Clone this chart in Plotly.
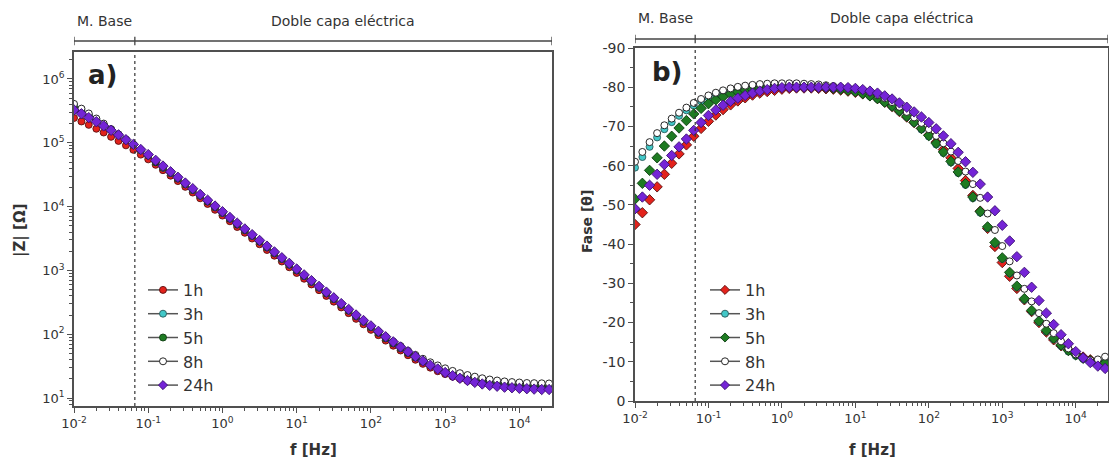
import math
import plotly.graph_objects as go

# ---------------- data ----------------
freq = [0.01, 0.0126, 0.0158, 0.02, 0.0251, 0.0316, 0.0398, 0.0501, 0.0631, 0.0794,
        0.1, 0.126, 0.158, 0.2, 0.251, 0.316, 0.398, 0.501, 0.631, 0.794,
        1, 1.26, 1.58, 2, 2.51, 3.16, 3.98, 5.01, 6.31, 7.94,
        10, 12.6, 15.8, 20, 25.1, 31.6, 39.8, 50.1, 63.1, 79.4,
        100, 126, 158, 200, 251, 316, 398, 501, 631, 794,
        1000, 1260, 1580, 2000, 2510, 3160, 3980, 5010, 6310, 7940,
        10000, 12600, 15800, 20000, 25100]

series = ["1h", "3h", "5h", "8h", "24h"]

Z_1h = [245000, 216000, 191000, 166000, 145000, 124000, 107000, 91200, 77600, 65300,
        55000, 45200, 37200, 30500, 25100, 20400, 16600, 13500, 11000, 8910,
        7240, 5890, 4790, 3890, 3160, 2570, 2090, 1700, 1380, 1120,
        912, 741, 603, 490, 398, 324, 263, 214, 174, 143,
        117, 96.6, 79.4, 66.1, 55.6, 46.8, 39.8, 34.3, 29.9, 26.3,
        23.7, 21.6, 20.0, 18.6, 17.6, 16.8, 16.2, 15.7, 15.3, 15.0,
        14.7, 14.5, 14.4, 14.3, 14.2]
Z_3h = [380000, 324000, 275000, 232000, 195000, 162000, 135000, 112000, 93300, 76700,
        63100, 49500, 40700, 33500, 27500, 22400, 18200, 14800, 12000, 9770,
        7940, 6460, 5250, 4270, 3470, 2820, 2290, 1860, 1510, 1230,
        1000, 813, 661, 537, 437, 355, 288, 234, 191, 157,
        129, 106, 87.1, 72.4, 61.0, 51.3, 43.7, 37.6, 32.7, 28.8,
        26.0, 23.7, 21.9, 20.4, 19.3, 18.4, 17.6, 17.0, 16.6, 16.2,
        16.0, 15.8, 15.7, 15.6, 15.5]
Z_5h = [355000, 305000, 263000, 224000, 191000, 160000, 135000, 112000, 93300, 76700,
        63100, 49500, 40700, 33500, 27500, 22400, 18200, 14800, 12000, 9770,
        7940, 6460, 5250, 4270, 3470, 2820, 2290, 1860, 1510, 1230,
        1000, 813, 661, 537, 437, 355, 288, 234, 191, 157,
        129, 105, 86.1, 71.6, 60.3, 50.7, 43.2, 37.2, 32.4, 28.5,
        25.4, 23.2, 21.4, 20.0, 18.8, 17.8, 17.0, 16.4, 15.8, 15.5,
        15.2, 15.1, 15.0, 14.9, 14.8]
Z_8h = [407000, 343000, 288000, 240000, 200000, 164000, 135000, 112000, 93300, 76700,
        63100, 50700, 41700, 34300, 28200, 22900, 18600, 15100, 12300, 10000,
        8130, 6610, 5370, 4370, 3550, 2880, 2340, 1910, 1550, 1260,
        1020, 832, 676, 550, 447, 363, 295, 240, 195, 160,
        132, 110, 91.2, 76.7, 65.3, 55.0, 47.3, 41.2, 36.3, 32.4,
        29.2, 26.6, 24.5, 22.9, 21.6, 20.4, 19.5, 18.8, 18.2, 17.8,
        17.5, 17.2, 17.1, 17.0, 16.9]
Z_24h = [327000, 285000, 248000, 214000, 184000, 157000, 133000, 112000, 94400, 78500,
         65300, 53100, 43200, 35100, 28800, 23400, 19100, 15500, 12600, 10200,
         8320, 6760, 5500, 4470, 3630, 2950, 2400, 1950, 1580, 1290,
         1050, 851, 692, 562, 457, 372, 302, 245, 200, 164,
         135, 111, 91.2, 75.9, 63.1, 53.1, 44.7, 38.0, 32.7, 28.5,
         25.1, 22.4, 20.4, 18.8, 17.6, 16.6, 15.8, 15.3, 14.8, 14.5,
         14.2, 14.0, 13.8, 13.6, 13.6]

phase_1h = [-45.0, -48.0, -51.3, -54.6, -57.8, -60.6, -63.0, -65.3, -67.5, -69.5,
            -71.3, -72.9, -74.3, -75.5, -76.5, -77.3, -78.0, -78.5, -78.9, -79.2,
            -79.5, -79.7, -79.8, -79.8, -79.8, -79.7, -79.6, -79.5, -79.3, -79.0,
            -78.7, -78.3, -77.8, -77.1, -76.2, -75.1, -73.8, -72.4, -71.0, -69.5,
            -67.8, -66.0, -64.1, -62.0, -59.3, -56.2, -52.4, -48.4, -44.0, -39.4,
            -35.3, -31.8, -28.7, -25.8, -22.8, -20.0, -17.6, -15.6, -14.1, -13.0,
            -12.0, -11.2, -10.5, -10.0, -9.6]
phase_3h = [-59.5, -62.2, -64.8, -67.2, -69.3, -71.1, -72.7, -74.1, -75.3, -76.4,
            -77.3, -78.0, -78.7, -79.2, -79.6, -79.9, -80.1, -80.3, -80.4, -80.5,
            -80.5, -80.5, -80.5, -80.4, -80.3, -80.2, -80.0, -79.8, -79.5, -79.2,
            -78.8, -78.3, -77.7, -77.0, -76.1, -75.0, -73.8, -72.4, -70.9, -69.2,
            -67.4, -65.4, -63.2, -60.8, -58.1, -55.1, -51.7, -48.0, -44.1, -40.1,
            -36.2, -32.5, -29.0, -25.8, -22.8, -20.1, -17.7, -15.7, -14.0, -12.6,
            -11.5, -10.7, -10.2, -10.0, -10.1]
phase_5h = [-51.5, -55.5, -58.8, -62.0, -65.0, -67.5, -69.6, -71.5, -73.2, -74.6,
            -75.8, -76.8, -77.6, -78.3, -78.8, -79.2, -79.5, -79.8, -80.0, -80.1,
            -80.2, -80.2, -80.2, -80.2, -80.1, -80.0, -79.9, -79.7, -79.5, -79.2,
            -78.9, -78.4, -77.8, -77.1, -76.2, -75.2, -74.0, -72.6, -71.1, -69.5,
            -67.7, -65.7, -63.5, -61.1, -58.4, -55.4, -52.0, -48.3, -44.4, -40.4,
            -36.5, -32.8, -29.3, -26.1, -23.1, -20.4, -18.0, -16.0, -14.3, -12.9,
            -11.8, -10.9, -10.3, -9.9, -9.7]
phase_8h = [-61.0, -63.5, -66.0, -68.3, -70.3, -72.0, -73.5, -74.8, -76.0, -77.0,
            -77.9, -78.6, -79.2, -79.7, -80.1, -80.4, -80.6, -80.8, -80.9, -81.0,
            -81.0, -81.0, -81.0, -80.9, -80.8, -80.7, -80.5, -80.3, -80.0, -79.8,
            -79.6, -79.2, -78.7, -78.0, -77.2, -76.2, -75.0, -73.7, -72.3, -70.9,
            -69.3, -67.6, -65.7, -63.6, -61.2, -58.5, -55.3, -51.8, -47.8, -43.6,
            -39.5, -35.6, -32.0, -28.6, -25.4, -22.4, -19.7, -17.3, -15.2, -13.4,
            -11.9, -10.9, -10.4, -10.6, -11.3]
phase_24h = [-49.0, -52.0, -55.0, -57.8, -60.3, -62.6, -64.8, -66.8, -69.0, -71.0,
             -72.8, -74.2, -75.4, -76.4, -77.2, -77.9, -78.5, -79.0, -79.4, -79.7,
             -79.9, -80.0, -80.0, -80.0, -80.0, -80.0, -80.0, -80.0, -80.0, -79.9,
             -79.7, -79.4, -79.0, -78.5, -77.8, -77.0, -76.0, -74.9, -73.7, -72.4,
             -71.0, -69.4, -67.6, -65.6, -63.4, -61.0, -58.3, -55.3, -52.0, -48.5,
             -44.8, -40.8, -36.8, -32.8, -29.0, -25.6, -22.4, -19.5, -16.9, -14.6,
             -12.6, -11.0, -9.8, -8.9, -8.3]

Z = {"1h": Z_1h, "3h": Z_3h, "5h": Z_5h, "8h": Z_8h, "24h": Z_24h}
PH = {"1h": phase_1h, "3h": phase_3h, "5h": phase_5h, "8h": phase_8h, "24h": phase_24h}

freq_ticks = [0.01, 0.1, 1, 10, 100, 1000, 10000]
freq_ticktext = ["10<sup>-2</sup>", "10<sup>-1</sup>", "10<sup>0</sup>", "10<sup>1</sup>",
                 "10<sup>2</sup>", "10<sup>3</sup>", "10<sup>4</sup>"]
z_ticks = [10, 100, 1000, 10000, 100000, 1000000]
z_ticktext = ["10<sup>1</sup>", "10<sup>2</sup>", "10<sup>3</sup>", "10<sup>4</sup>",
              "10<sup>5</sup>", "10<sup>6</sup>"]
phase_ticks = [0, -10, -20, -30, -40, -50, -60, -70, -80, -90]
f_boundary = 0.066          # limit between "M. Base" and "Doble capa eléctrica"
f_min, f_max = 0.01, 27500  # visible frequency window
region_labels = ["M. Base", "Doble capa eléctrica"]

# ---------------- style ----------------
fill = {"1h": "#e3221b", "3h": "#42c8c8", "5h": "#1e7b22", "8h": "#ffffff", "24h": "#7424d6"}
edge = {"1h": "#5a1010", "3h": "#2a5a5a", "5h": "#0f3d12", "8h": "#111111", "24h": "#3a1070"}
sym_left = {"1h": "circle", "3h": "circle", "5h": "circle", "8h": "circle", "24h": "diamond"}
sym_right = {"1h": "diamond", "3h": "circle", "5h": "diamond", "8h": "circle", "24h": "diamond"}

FONT = "DejaVu Sans"
AX = "#505050"
X_RANGE = [math.log10(f_min), math.log10(f_max)]

fig = go.Figure()

for xa, ya, data, syms, leg in [("x", "y", Z, sym_left, "legend"),
                                ("x2", "y2", PH, sym_right, "legend2")]:
    for s in series:
        fig.add_trace(go.Scatter(
            x=freq, y=data[s], xaxis=xa, yaxis=ya, mode="markers", name=s,
            showlegend=False,
            marker=dict(symbol=syms[s], size=7 if syms[s] == "circle" else 8,
                        color=fill[s], line=dict(color=edge[s], width=0.9))))
    for s in series:
        fig.add_trace(go.Scatter(
            x=[None], y=[None], xaxis=xa, yaxis=ya, mode="lines+markers", name=s,
            legend=leg, showlegend=True,
            line=dict(color="#555555", width=1.5),
            marker=dict(symbol=syms[s], size=7, color=fill[s],
                        line=dict(color=edge[s], width=0.9))))

axis_common = dict(showline=True, linecolor=AX, linewidth=1.6, mirror=True,
                   ticks="outside", ticklen=5, tickwidth=1.2, tickcolor=AX,
                   showgrid=False, zeroline=False, automargin=False)
common_x = dict(type="log", range=X_RANGE, tickvals=freq_ticks, ticktext=freq_ticktext,
                minor=dict(ticks="outside", ticklen=3, tickcolor=AX, dtick="D1"),
                tickfont=dict(family=FONT, size=13, color="#333333"), **axis_common)

fig.update_layout(
    width=1109, height=466, margin=dict(l=0, r=0, t=0, b=0),
    paper_bgcolor="white", plot_bgcolor="white",
    font=dict(family=FONT, color="#333333"),
    xaxis=dict(domain=[74 / 1109, 552 / 1109], anchor="y", **common_x),
    yaxis=dict(domain=[1 - 406 / 466, 1 - 52 / 466], anchor="x", type="log",
               range=[0.875, 6.423], tickvals=z_ticks, ticktext=z_ticktext,
               minor=dict(ticks="outside", ticklen=3, tickcolor=AX, dtick="D1"),
               tickfont=dict(family=FONT, size=13, color="#333333"), **axis_common),
    xaxis2=dict(domain=[635 / 1109, 1108 / 1109], anchor="y2", **common_x),
    yaxis2=dict(domain=[1 - 401 / 466, 1 - 48 / 466], anchor="x2", range=[0, -90],
                tickvals=phase_ticks, ticktext=[str(v) for v in phase_ticks],
                minor=dict(ticks="outside", ticklen=3, tickcolor=AX, dtick=5, tick0=0),
                tickfont=dict(family=FONT, size=14, color="#333333"), **axis_common),
    legend=dict(x=143 / 1109, y=1 - 273 / 466, xanchor="left", yanchor="top",
                bgcolor="rgba(0,0,0,0)", borderwidth=0, tracegroupgap=0,
                font=dict(family=FONT, size=16, color="#333333")),
    legend2=dict(x=705 / 1109, y=1 - 273 / 466, xanchor="left", yanchor="top",
                 bgcolor="rgba(0,0,0,0)", borderwidth=0, tracegroupgap=0,
                 font=dict(family=FONT, size=16, color="#333333")),
)

# geometric mean positions (centres on a log axis) for the region labels
c_base = math.sqrt(f_min * f_boundary)
c_dcl = math.sqrt(f_boundary * f_max)

shapes = []
anns = []
for xr, yr, ybr, ylab in [("x", "y domain", 1 - 41 / 466, 1 - 21 / 466),
                          ("x2", "y2 domain", 1 - 39 / 466, 1 - 18 / 466)]:
    shapes.append(dict(type="line", xref=xr, yref=yr, x0=f_boundary, x1=f_boundary,
                       y0=0, y1=1, line=dict(color="#333333", width=1.2, dash="dot")))
    shapes.append(dict(type="line", xref=xr, yref="paper", x0=f_min, x1=f_max,
                       y0=ybr, y1=ybr, line=dict(color="#444444", width=1.3)))
    for xv in [f_min, f_boundary, f_max]:
        shapes.append(dict(type="line", xref=xr, yref="paper", x0=xv, x1=xv,
                           y0=ybr - 0.009, y1=ybr + 0.009,
                           line=dict(color="#444444", width=1.3)))
    anns.append(dict(xref=xr, yref="paper", x=math.log10(c_base), y=ylab,
                     xanchor="center", yanchor="middle",
                     text=region_labels[0], showarrow=False,
                     font=dict(family=FONT, size=14, color="#333333")))
    anns.append(dict(xref=xr, yref="paper", x=math.log10(c_dcl), y=ylab,
                     xanchor="center", yanchor="middle",
                     text=region_labels[1], showarrow=False,
                     font=dict(family=FONT, size=14, color="#333333")))

title_font = dict(family=FONT, size=15, color="#333333")
for x, y, text, angle, font in [
        (313, 450, "<b>f [Hz]</b>", 0, title_font),
        (872, 450, "<b>f [Hz]</b>", 0, title_font),
        (20, 230, "<b>|Z| [Ω]</b>", -90, title_font),
        (587, 222, "<b>Fase [θ]</b>", -90, dict(family=FONT, size=14, color="#333333")),
        (102, 75, "<b>a)</b>", 0, dict(family=FONT, size=26, color="#222222")),
        (667, 72, "<b>b)</b>", 0, dict(family=FONT, size=26, color="#222222"))]:
    anns.append(dict(xref="paper", yref="paper", x=x / 1109, y=1 - y / 466, text=text,
                     xanchor="center", yanchor="middle", textangle=angle,
                     showarrow=False, font=font))

fig.update_layout(shapes=shapes, annotations=anns)
fig.write_html("out.html")
